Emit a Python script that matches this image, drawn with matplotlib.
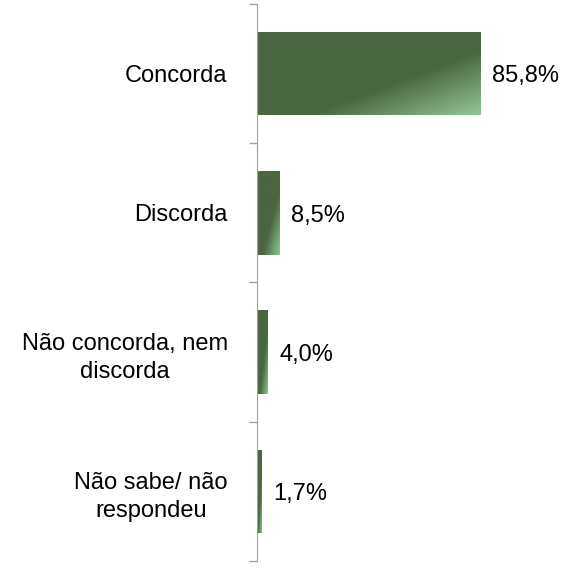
import numpy as np
import matplotlib.pyplot as plt
from matplotlib.colors import LinearSegmentedColormap

# data
categories = ["Concorda", "Discorda", "Não concorda, nem\ndiscorda", "Não sabe/ não\nrespondeu"]
values = [85.8, 8.5, 4.0, 1.7]
value_labels = ["85,8%", "8,5%", "4,0%", "1,7%"]

plt.rcParams['font.family'] = ['Liberation Sans', 'DejaVu Sans']

fig = plt.figure(figsize=(5.72, 5.70), dpi=100)
ax = fig.add_axes([0.449, 0.0158, 0.455, 0.9772])

ypos = np.arange(len(categories))
bar_h = 0.6
bars = ax.barh(ypos, values, height=bar_h, color="none", edgecolor="none")

# diagonal gradient inside each bar, light at bottom-right
cmap = LinearSegmentedColormap.from_list(
    "grn", [(0, "#4a6741"), (0.62, "#4a6741"), (1, "#93c796")])
u = np.linspace(0, 1, 200)
uu, vv = np.meshgrid(u, u)
grad = (uu + vv) / 2
for b in bars:
    x0, y0 = b.get_x(), b.get_y()
    w, h = b.get_width(), b.get_height()
    im = ax.imshow(grad, cmap=cmap, vmin=0, vmax=1, aspect="auto",
                   extent=[x0, x0 + w, y0 + h, y0], origin="upper",
                   interpolation="bilinear")
    im.set_clip_path(b)

for y, v, lab in zip(ypos, values, value_labels):
    ax.text(v + 4.6, y + 0.02, lab, va="center", ha="left", fontsize=17, color="black")

ax.set_xlim(0, 100)
ax.set_ylim(len(categories) - 0.5, -0.5)

ax.set_yticks(ypos)
ax.set_yticklabels(categories, fontsize=17)
for t in ax.get_yticklabels():
    t.set_multialignment("center")
    t.set_linespacing(1.35)
ax.tick_params(axis="y", which="major", length=0, pad=21)
ax.set_yticks(np.arange(-0.5, len(categories)), minor=True)
ax.tick_params(axis="y", which="minor", length=6, color="#a0a0a0", width=1)
ax.set_xticks([])

for s in ["top", "right", "bottom"]:
    ax.spines[s].set_visible(False)
ax.spines["left"].set_color("#a0a0a0")

fig.savefig("out.png", dpi=100)
